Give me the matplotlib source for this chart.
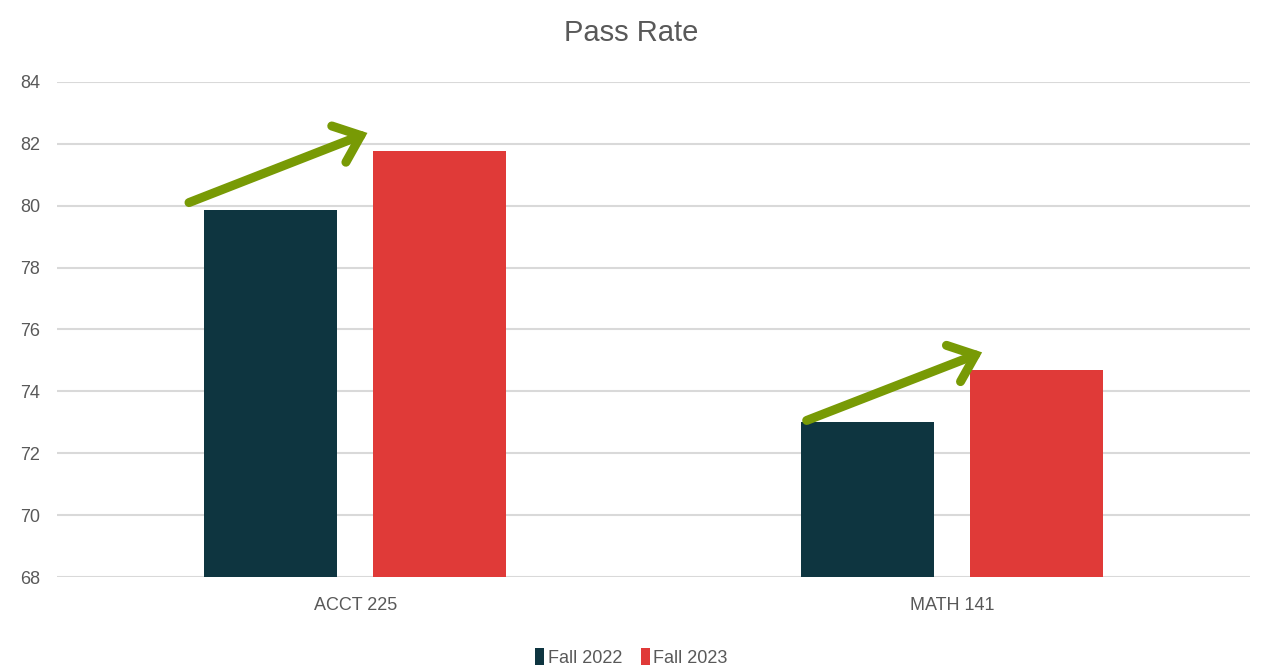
import numpy as np
import matplotlib.pyplot as plt

plt.rcParams['font.family'] = ['Liberation Sans Narrow', 'Liberation Sans', 'DejaVu Sans']

categories = ['ACCT 225', 'MATH 141']
fall_2022 = [79.85, 73.0]
fall_2023 = [81.75, 74.7]
series_names = ['Fall 2022', 'Fall 2023']

c22 = '#0e3540'
c23 = '#e03a38'
green = '#789a05'
grey = '#595959'

fig = plt.figure(figsize=(12.63, 6.71), dpi=100)
ax = fig.add_axes([0.045, 0.14, 0.945, 0.738])

x = np.arange(len(categories))
w = 0.223
off = 0.142
b1 = ax.bar(x - off, fall_2022, w, color=c22, label=series_names[0], zorder=3)
b2 = ax.bar(x + off, fall_2023, w, color=c23, label=series_names[1], zorder=3)

# arrows showing the improvement
for i in range(len(categories)):
    x0 = x[i] - off - w / 2 + (-0.025 if i == 0 else 0.01)
    x1 = x[i] + off - w / 2 + (-0.01 if i == 0 else 0.02)
    y0 = fall_2022[i] + (0.25 if i == 0 else 0.06)
    y1 = fall_2023[i] + (0.6 if i == 0 else 0.56)
    ax.annotate('', xy=(x1, y1), xytext=(x0, y0),
                arrowprops=dict(arrowstyle='->,head_length=1.7,head_width=1.4',
                                color=green, lw=6.5, shrinkA=0, shrinkB=0,
                                capstyle='round', joinstyle='miter'),
                zorder=5)

ax.set_xlim(-0.5, 1.5)
ax.set_ylim(68, 84)
ax.set_yticks(np.arange(68, 85, 2))
ax.set_xticks(x)
ax.set_xticklabels(categories)
ax.tick_params(axis='both', length=0, labelsize=13, colors=grey)
ax.tick_params(axis='x', pad=14)
ax.tick_params(axis='y', pad=12)
ax.grid(axis='y', color='#d9d9d9', lw=1.5, zorder=0)
for s in ['top', 'right', 'left', 'bottom']:
    ax.spines[s].set_visible(False)

fig.text(0.5, 0.951, 'Pass Rate', ha='center', va='center', fontsize=21, color=grey)
fig.legend(handles=[b1, b2], loc='center', bbox_to_anchor=(0.5, 0.02), ncol=2,
           frameon=False, fontsize=13, labelcolor=grey, handlelength=0.5,
           handleheight=1.0, handletextpad=0.2, columnspacing=1.0)

fig.savefig('out.png', dpi=100)
